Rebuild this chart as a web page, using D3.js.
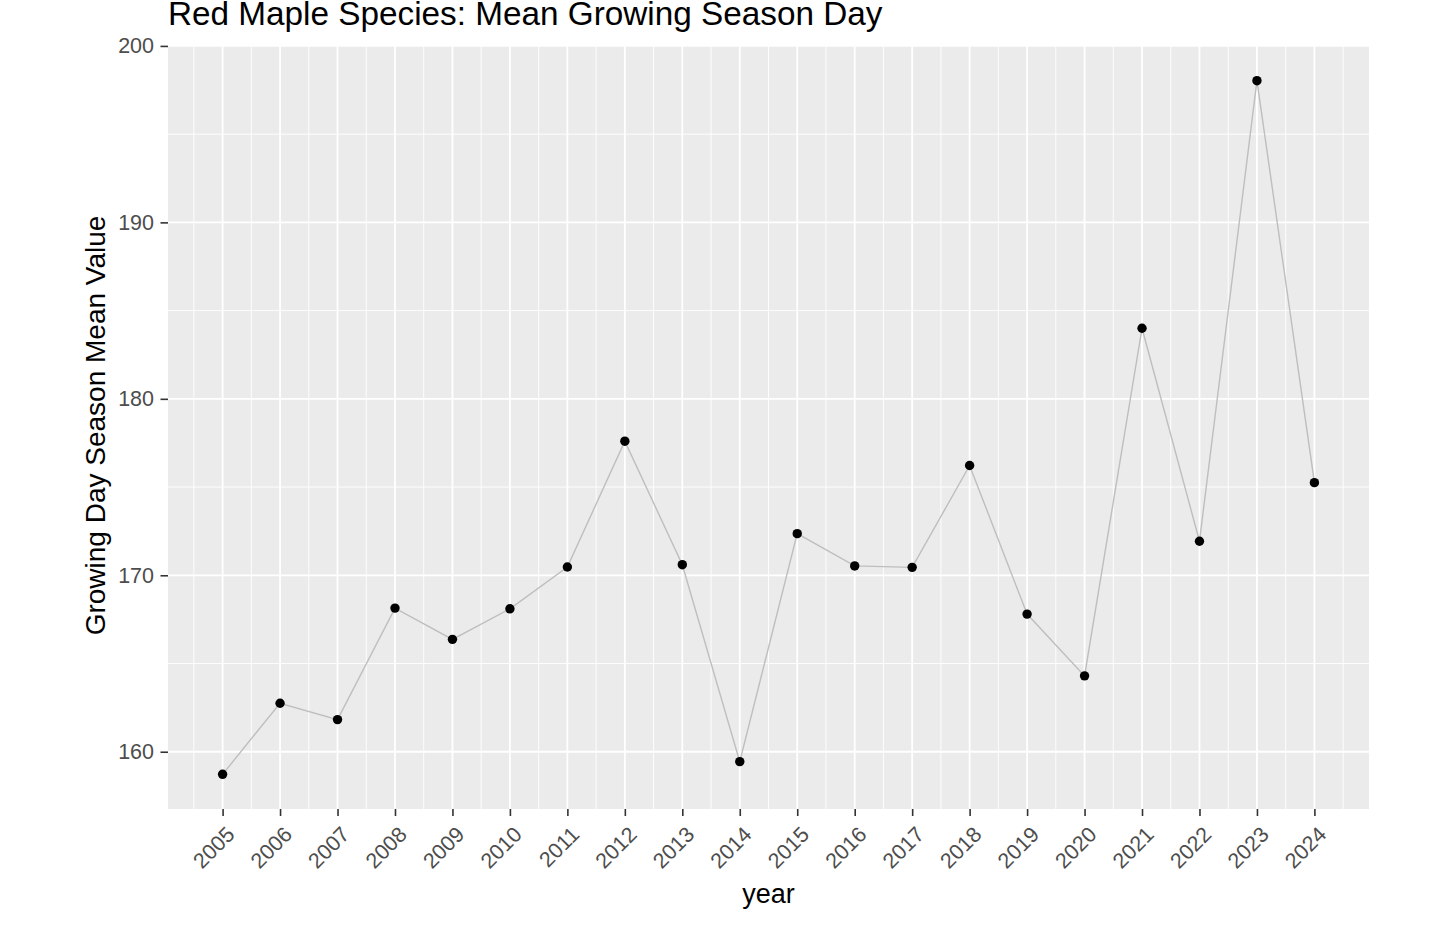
<!DOCTYPE html>
<html>
<head>
<meta charset="utf-8">
<script src="https://cdn.jsdelivr.net/npm/d3@7"></script>
<style>
  html, body { margin: 0; padding: 0; background: #fff; }
  svg { display: block; font-family: "Liberation Sans", Arial, sans-serif; }
</style>
</head>
<body>
<svg id="chart" width="1456" height="929"></svg>
<script>
// Mean growing season day per year
const years = [2005, 2006, 2007, 2008, 2009, 2010, 2011, 2012, 2013, 2014,
               2015, 2016, 2017, 2018, 2019, 2020, 2021, 2022, 2023, 2024];
const meanDay = [158.72, 162.75, 161.82, 168.14, 166.37, 168.10, 170.47, 177.60, 170.60, 159.44,
                 172.36, 170.53, 170.45, 176.22, 167.80, 164.30, 184.00, 171.93, 198.03, 175.25];
const yTicks = [160, 170, 180, 190, 200];

const titleText = "Red Maple Species: Mean Growing Season Day";
const xTitle = "year";
const yTitle = "Growing Day Season Mean Value";

function drawChart() {
    const svg = d3.select("#chart");
    const panel = { left: 168, right: 1369, top: 46, bottom: 809 };

    // ggplot-style 5% expansion on both axes
    const xExt = d3.extent(years);
    const xPad = (xExt[1] - xExt[0]) * 0.05;
    const x = d3.scaleLinear()
        .domain([xExt[0] - xPad, xExt[1] + xPad])
        .range([panel.left, panel.right]);

    const yExt = d3.extent(meanDay);
    const yPad = (yExt[1] - yExt[0]) * 0.05;
    const y = d3.scaleLinear()
        .domain([yExt[0] - yPad, yExt[1] + yPad])
        .range([panel.bottom, panel.top]);

    // panel background
    svg.append("rect")
        .attr("x", panel.left).attr("y", panel.top)
        .attr("width", panel.right - panel.left)
        .attr("height", panel.bottom - panel.top)
        .attr("fill", "#ebebeb");

    const grid = svg.append("g");

    // minor grid (half steps)
    const xMinor = years.map(d => d - 0.5).concat([years[years.length - 1] + 0.5]);
    const yMinor = d3.range(yTicks[0] - 5, yTicks[yTicks.length - 1] + 5, 10)
        .filter(v => v > y.domain()[0] && v < y.domain()[1]);

    grid.selectAll("line.xminor").data(xMinor).enter().append("line")
        .attr("x1", d => x(d)).attr("x2", d => x(d))
        .attr("y1", panel.top).attr("y2", panel.bottom)
        .attr("stroke", "#fff").attr("stroke-width", 0.9);

    grid.selectAll("line.yminor").data(yMinor).enter().append("line")
        .attr("x1", panel.left).attr("x2", panel.right)
        .attr("y1", d => y(d)).attr("y2", d => y(d))
        .attr("stroke", "#fff").attr("stroke-width", 0.9);

    // major grid
    grid.selectAll("line.xmajor").data(years).enter().append("line")
        .attr("x1", d => x(d)).attr("x2", d => x(d))
        .attr("y1", panel.top).attr("y2", panel.bottom)
        .attr("stroke", "#fff").attr("stroke-width", 1.8);

    grid.selectAll("line.ymajor").data(yTicks).enter().append("line")
        .attr("x1", panel.left).attr("x2", panel.right)
        .attr("y1", d => y(d)).attr("y2", d => y(d))
        .attr("stroke", "#fff").attr("stroke-width", 1.8);

    // line + points
    const pts = years.map((yr, i) => ({ yr, v: meanDay[i] }));
    const lineGen = d3.line().x(d => x(d.yr)).y(d => y(d.v));

    svg.append("path")
        .datum(pts)
        .attr("d", lineGen)
        .attr("fill", "none")
        .attr("stroke", "#bebebe")
        .attr("stroke-width", 1.4);

    svg.selectAll("circle.pt").data(pts).enter().append("circle")
        .attr("cx", d => x(d.yr))
        .attr("cy", d => y(d.v))
        .attr("r", 4.7)
        .attr("fill", "#000");

    // y axis
    const yAxis = svg.append("g")
        .attr("transform", `translate(${panel.left},0)`)
        .call(d3.axisLeft(y).tickValues(yTicks).tickSize(7.5).tickPadding(6.5).tickFormat(d3.format("d")));
    yAxis.select(".domain").remove();
    yAxis.selectAll(".tick line").attr("stroke", "#333").attr("stroke-width", 1.6);
    yAxis.selectAll(".tick text")
        .attr("fill", "#4d4d4d")
        .attr("font-size", 21.5)
        .attr("font-family", "Liberation Sans, Arial, sans-serif");

    // x axis
    const xAxis = svg.append("g")
        .attr("transform", `translate(0,${panel.bottom})`)
        .call(d3.axisBottom(x).tickValues(years).tickSize(7).tickFormat(d3.format("d")));
    xAxis.select(".domain").remove();
    xAxis.selectAll(".tick line").attr("stroke", "#333").attr("stroke-width", 1.6);
    xAxis.selectAll(".tick text")
        .attr("fill", "#4d4d4d")
        .attr("font-size", 21.5)
        .attr("font-family", "Liberation Sans, Arial, sans-serif")
        .attr("text-anchor", "end")
        .attr("y", 0)
        .attr("dy", "0.71em")
        .attr("transform", "translate(2,16) rotate(-45)");

    // titles
    svg.append("text")
        .attr("x", panel.left)
        .attr("y", 25)
        .attr("font-size", 33.3)
        .attr("fill", "#000")
        .text(titleText);

    svg.append("text")
        .attr("x", (panel.left + panel.right) / 2)
        .attr("y", 903)
        .attr("text-anchor", "middle")
        .attr("font-size", 27)
        .attr("fill", "#000")
        .text(xTitle);

    svg.append("text")
        .attr("transform", `translate(105,${(panel.top + panel.bottom) / 2 - 2}) rotate(-90)`)
        .attr("text-anchor", "middle")
        .attr("font-size", 28)
        .attr("fill", "#000")
        .text(yTitle);
}

drawChart();
</script>
</body>
</html>
